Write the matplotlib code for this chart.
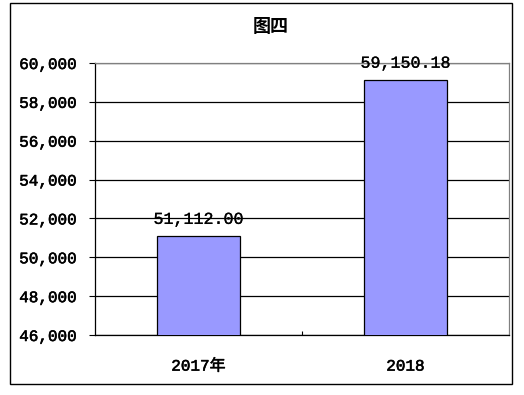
import matplotlib
matplotlib.use("Agg")
import matplotlib.pyplot as plt
from matplotlib.patches import Rectangle
from matplotlib.ticker import FuncFormatter, FixedLocator
import matplotlib.patheffects as pe

categories = ["2017年", "2018"]
values = [51112.00, 59150.18]
y_ticks = [46000, 48000, 50000, 52000, 54000, 56000, 58000, 60000]
title = "图四"

num_font = ["Liberation Mono", "Noto Sans CJK SC"]
thick = [pe.withStroke(linewidth=0.4, foreground="black")]

fig = plt.figure(figsize=(5.24, 3.95), dpi=100)
fig.patch.set_facecolor("white")

# outer border
fig.patches.append(Rectangle((10 / 524, 1 - 384 / 395), 502 / 524, 381 / 395,
                             transform=fig.transFigure, fill=False,
                             edgecolor="black", linewidth=1.0))

ax = fig.add_axes([95 / 524, 60 / 395, 414 / 524, 272 / 395])
x = list(range(len(categories)))
ax.bar(x, values, width=0.4, color="#9999FF", edgecolor="black", linewidth=0.9, zorder=3)

ax.set_xlim(-0.5, len(categories) - 0.5)
ax.set_ylim(y_ticks[0], y_ticks[-1])
ax.set_yticks(y_ticks)
ax.yaxis.set_major_formatter(FuncFormatter(lambda v, p: f"{int(v):,}"))
ax.grid(axis="y", color="black", linewidth=0.9, zorder=1)
ax.set_axisbelow(True)

ax.set_xticks(x)
ax.set_xticklabels(categories)
ax.xaxis.set_minor_locator(FixedLocator([0.5]))
ax.tick_params(axis="x", which="major", length=0, pad=17)
ax.tick_params(axis="x", which="minor", direction="in", length=3, width=0.8)
ax.tick_params(axis="y", which="major", direction="out", length=4, width=0.8, pad=9)

for lbl in ax.get_xticklabels() + ax.get_yticklabels():
    lbl.set_family(num_font)
    lbl.set_fontsize(11.5)
    lbl.set_color("black")
    lbl.set_path_effects(thick)

for s in ["left", "bottom"]:
    ax.spines[s].set_color("black")
    ax.spines[s].set_linewidth(0.9)
for s in ["top", "right"]:
    ax.spines[s].set_color("#808080")
    ax.spines[s].set_linewidth(0.9)

for xi, v in zip(x, values):
    ax.annotate(f"{v:,.2f}", xy=(xi, v), xytext=(0, 8.5), textcoords="offset points",
                ha="center", va="baseline", family=num_font, fontsize=12, color="black",
                path_effects=[pe.withStroke(linewidth=0.2, foreground="black")])

fig.text(271 / 524, 1 - 27 / 395, title, ha="center", va="center",
         family=["Noto Sans CJK SC", "DejaVu Sans"], fontsize=13, fontweight="bold")

fig.savefig("out.png", dpi=100, facecolor="white")
